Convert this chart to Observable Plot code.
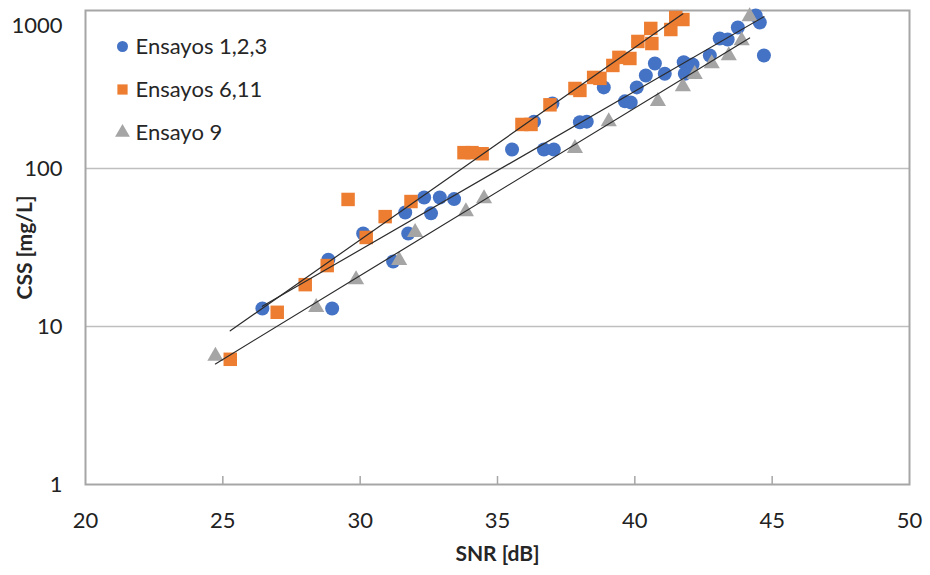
<!DOCTYPE html>
<html>
<head>
<meta charset="utf-8">
<script src="https://cdn.jsdelivr.net/npm/d3@7"></script>
<script src="https://cdn.jsdelivr.net/npm/@observablehq/plot@0.6"></script>
<style>
  html, body { margin: 0; padding: 0; background: #fff; }
  #chart { width: 930px; height: 575px; }
</style>
</head>
<body>
<div id="chart"></div>
<script>
// ---- Data ----
const seriesNames = ["Ensayos 1,2,3", "Ensayos 6,11", "Ensayo 9"];
const seriesColors = ["#4472C4", "#ED7D31", "#A5A5A5"];
const seriesSymbols = ["circle", "square", "triangle"];

const blueX = [26.44, 28.84, 28.98, 30.11, 31.2, 31.64, 31.75, 32.33, 32.58, 32.9, 33.42, 35.53, 36.33, 36.69, 37.0, 37.05, 38.0, 38.25, 38.87, 39.64, 39.85, 40.07, 40.4, 40.73, 41.09, 41.78, 41.82, 42.1, 42.73, 43.09, 43.38, 43.75, 44.4, 44.55, 44.7];
const blueY = [13.0, 26.5, 13.0, 38.8, 25.8, 52.7, 38.8, 65.5, 52, 65.5, 64, 132, 198, 132, 258, 132, 196, 198, 326, 266, 262, 326, 388, 462, 398, 470, 398, 455, 519, 665, 655, 780, 930, 840, 519];

const orangeX = [25.27, 26.98, 28.0, 28.8, 29.56, 30.22, 30.91, 31.85, 33.78, 34.07, 34.44, 35.89, 36.22, 36.91, 37.82, 38.0, 38.5, 38.73, 39.2, 39.42, 39.82, 40.11, 40.62, 40.58, 41.31, 41.49, 41.75];
const orangeY = [6.2, 12.3, 18.4, 24.3, 63.7, 36.6, 49.6, 61.8, 126, 126, 124, 190, 190, 253, 321, 312, 377, 372, 449, 505, 497, 637, 618, 770, 758, 903, 877];

const grayX = [24.73, 28.4, 29.85, 31.42, 32.0, 33.85, 34.51, 37.82, 39.05, 40.84, 41.75, 42.18, 42.8, 43.42, 43.89, 44.18];
const grayY = [6.5, 13.2, 19.8, 26.2, 39.4, 53.4, 64.6, 134, 198, 266, 330, 394, 462, 519, 646, 916];

const xTicks = [20, 25, 30, 35, 40, 45, 50];
const yTicks = [1, 10, 100, 1000];
const xLabel = "SNR [dB]";
const yLabel = "CSS [mg/L]";

// ---- Build tables ----
const seriesX = [blueX, orangeX, grayX];
const seriesY = [blueY, orangeY, grayY];
const points = [];
seriesX.forEach((xs, s) => xs.forEach((x, i) => points.push({s, x, y: seriesY[s][i]})));

// exponential trendline (least squares of log10(y) on x), as Excel does
function expTrend(xs, ys, s) {
  const ly = ys.map(Math.log10);
  const mx = d3.mean(xs), my = d3.mean(ly);
  let num = 0, den = 0;
  xs.forEach((x, i) => { num += (x - mx) * (ly[i] - my); den += (x - mx) ** 2; });
  const b = num / den, a = my - b * mx;
  const [x0, x1] = d3.extent(xs);
  return [{s, x: x0, y: 10 ** (a + b * x0)}, {s, x: x1, y: 10 ** (a + b * x1)}];
}
const trends = seriesX.flatMap((xs, s) => expTrend(xs, seriesY[s], s));

const FONT = "Lato, 'Open Sans', sans-serif";
const sizeFor = {circle: 7, square: 7.6, triangle: 6};

const marks = [
  Plot.ruleY([10, 100], {stroke: "#BFBFBF", strokeWidth: 1.5}),
  Plot.frame({stroke: "#A6A6A6", strokeWidth: 2}),
  Plot.axisX({ticks: xTicks.slice(1, -1), tickSize: 8, dy: -8, text: null, label: null, stroke: "#A6A6A6", strokeWidth: 1.5}),
  Plot.axisX({ticks: xTicks, tickSize: 0, tickPadding: 28, label: null, fontSize: 22, fill: "#222"}),
  Plot.axisY({ticks: yTicks.slice(0, -1), tickSize: 0, tickPadding: 23, tickFormat: d => String(d), label: null, fontSize: 22, fill: "#222"}),
  Plot.axisY({ticks: yTicks.slice(-1), tickSize: 0, tickPadding: 23, dy: 15, tickFormat: d => String(d), label: null, fontSize: 22, fill: "#222"}),
];
seriesX.forEach((xs, s) => {
  marks.push(Plot.dot(points.filter(d => d.s === s), {
    x: "x", y: "y", symbol: () => seriesSymbols[s], fill: seriesColors[s], r: sizeFor[seriesSymbols[s]], stroke: "none"
  }));
});
marks.push(Plot.line(trends, {x: "x", y: "y", z: "s", stroke: "#2b2b2b", strokeWidth: 1.2}));

// legend inside plot area
seriesNames.forEach((name, s) => {
  marks.push(Plot.dot([name], {frameAnchor: "top-left", dx: 37, dy: 36 + 43 * s, symbol: () => seriesSymbols[s], fill: seriesColors[s], r: 5.5 * (seriesSymbols[s] === "square" ? 1.05 : 1)}));
  marks.push(Plot.text([name], {frameAnchor: "top-left", dx: 50, dy: 36 + 43 * s, text: d => d, textAnchor: "start", lineAnchor: "middle", fontSize: 22, fill: "#262626"}));
});
// axis titles
marks.push(Plot.text([xLabel], {frameAnchor: "bottom", dy: 70, text: d => d, textAnchor: "middle", lineAnchor: "middle", fontSize: 21, fontWeight: "bold", fill: "#262626"}));
marks.push(Plot.text([yLabel], {frameAnchor: "left", dx: -60, rotate: -90, text: d => d, textAnchor: "middle", lineAnchor: "middle", fontSize: 21, fontWeight: "bold", fill: "#262626"}));

const chart = Plot.plot({
  width: 930,
  height: 575,
  marginLeft: 85,
  marginRight: 21,
  marginTop: 10,
  marginBottom: 91,
  style: {fontFamily: FONT, background: "#fff", overflow: "visible"},
  x: {domain: [20, 50]},
  y: {type: "log", domain: [1, 1000]},
  symbol: {type: "identity"},
  marks
});
document.getElementById("chart").appendChild(chart);
</script>
</body>
</html>
